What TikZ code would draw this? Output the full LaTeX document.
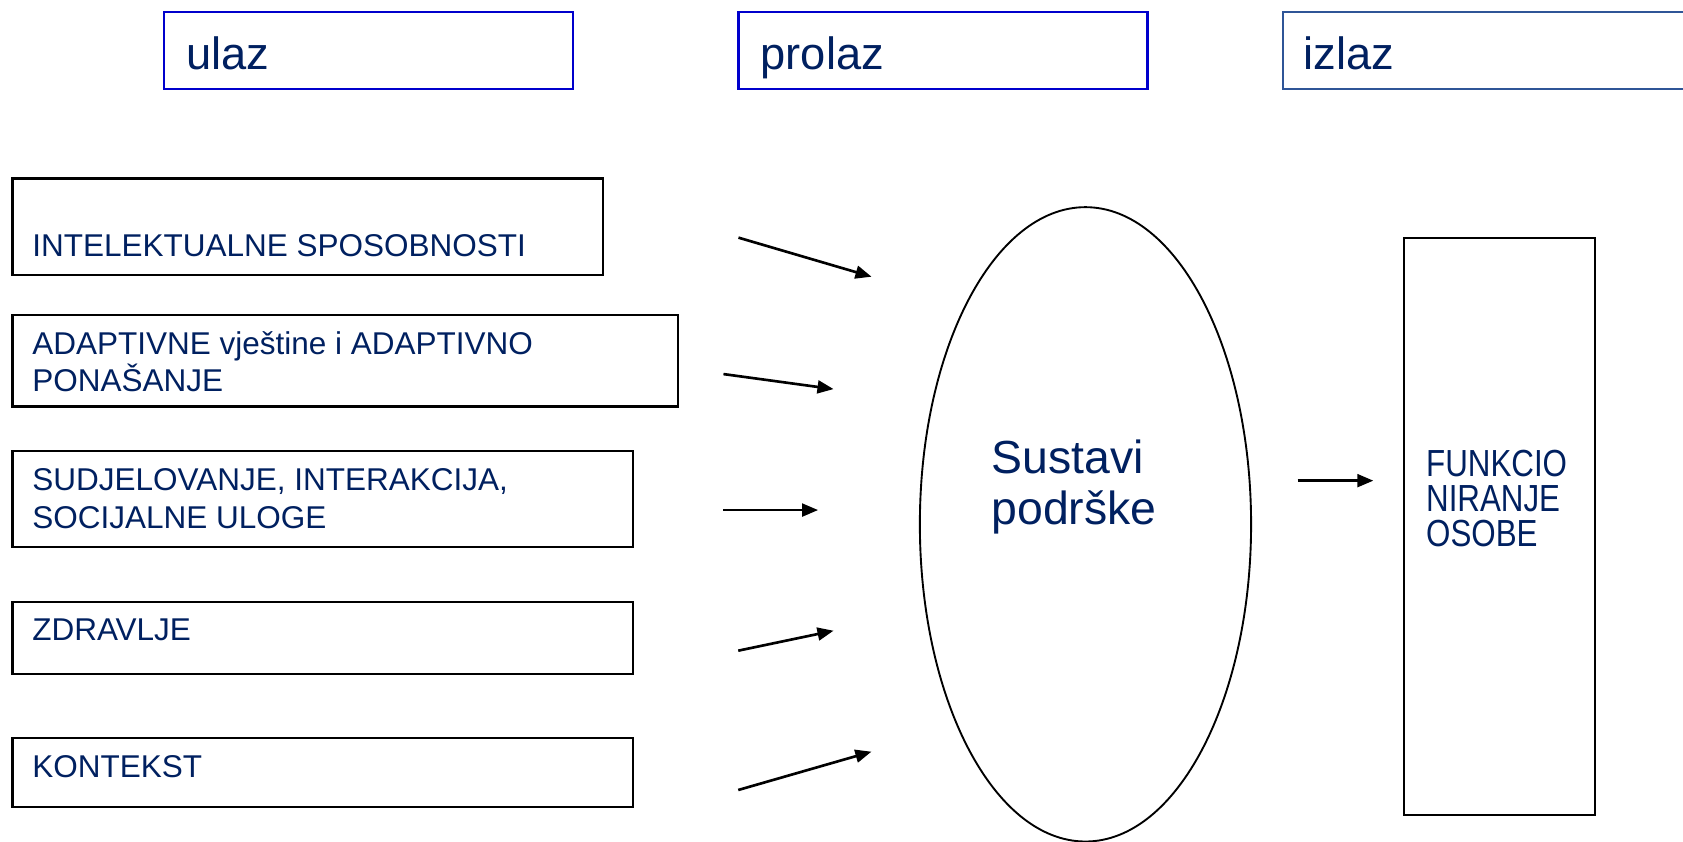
\documentclass[tikz,border=0pt]{standalone}
\usepackage{fontspec}
\setmainfont{Liberation Sans}
\newfontfamily\narrowfont[FakeStretch=0.83]{Liberation Sans}
\usetikzlibrary{shapes.geometric,arrows.meta}
\definecolor{textnavy}{RGB}{0,32,96}
\definecolor{headblue}{RGB}{0,0,204}
\definecolor{steelblue}{RGB}{47,85,151}

\begin{document}
\begin{tikzpicture}[head_box/.style={draw=headblue,line width=0.6pt,minimum width=3.81cm,minimum height=0.72cm,inner sep=0pt,anchor=north west},in_box/.style={draw,line width=0.6pt,inner sep=0pt,anchor=north west},head_text/.style={text=textnavy,font=\fontsize{12}{14}\selectfont,inner sep=0pt,anchor=base west},small_text/.style={text=textnavy,font=\fontsize{8.35}{9.9}\selectfont,align=left,inner sep=0pt,anchor=base west},big_text/.style={text=textnavy,font=\fontsize{12.3}{13.5}\selectfont,align=left,inner sep=0pt,anchor=base west},narrow_text/.style={text=textnavy,font=\narrowfont\fontsize{10}{9.3}\selectfont,align=left,inner sep=0pt,anchor=base west},arrow_line/.style={-{Triangle[length=1.5mm,width=1.2mm]},line width=0.7pt}]
		
		\useasboundingbox (0,0) rectangle (15.68,7.84);
		\clip (0,0) rectangle (15.68,7.84);
		
		% ulaz / prolaz / izlaz
		\node[head_box] (ulaz) at (1.52,7.74) {};
		\node[head_box] (prolaz) at (6.87,7.74) {};
		\node[head_box,draw=steelblue,minimum width=4.3cm] (izlaz) at (11.94,7.74) {};
		\node[head_text] (ulaz_t) at (1.73,7.19) {ulaz};
		\node[head_text] (prolaz_t) at (7.08,7.19) {prolaz};
		\node[head_text] (izlaz_t) at (12.14,7.19) {izlaz};
		
		% inputs (text anchored on its last line)
		\node[in_box,minimum width=5.50cm,minimum height=0.90cm] (intel) at (0.107,6.188) {};
		\node[in_box,minimum width=6.20cm,minimum height=0.85cm] (adapt) at (0.107,4.914) {};
		\node[in_box,minimum width=5.78cm,minimum height=0.89cm] (sudj) at (0.107,3.647) {};
		\node[in_box,minimum width=5.78cm,minimum height=0.67cm] (zdrav) at (0.107,2.24) {};
		\node[in_box,minimum width=5.78cm,minimum height=0.64cm] (kont) at (0.107,0.974) {};
		\node[small_text] (intel_t) at (0.294,5.448) {INTELEKTUALNE SPOSOBNOSTI};
		\node[small_text] (adapt_t) at (0.294,4.191) {ADAPTIVNE vještine i ADAPTIVNO\\PONAŠANJE};
		\node[small_text] (sudj_t) at (0.294,2.92) {SUDJELOVANJE, INTERAKCIJA,\\SOCIJALNE ULOGE};
		\node[small_text] (zdrav_t) at (0.294,1.87) {ZDRAVLJE};
		\node[small_text] (kont_t) at (0.294,0.594) {KONTEKST};
		
		% sustavi podrske
		\node[ellipse,draw,line width=0.5pt,minimum width=3.086cm,minimum height=5.91cm,inner sep=0pt] (sustav) at (10.113,2.955) {};
		\node[big_text] (sustav_t) at (9.23,2.955) {Sustavi\\podrške};
		
		% output
		\node[in_box,minimum width=1.78cm,minimum height=5.37cm] (funkc) at (13.07,5.63) {};
		\node[narrow_text] (funkc_t) at (13.28,2.75) {FUNKCIO\\NIRANJE\\OSOBE};
		
		\coordinate (a1) at (6.88,5.626);
		\coordinate (b1) at (8.12,5.262);
		\coordinate (a2) at (6.74,4.355);
		\coordinate (b2) at (7.766,4.215);
		\coordinate (a3) at (6.74,3.088);
		\coordinate (b3) at (7.622,3.088);
		\coordinate (a4) at (6.878,1.778);
		\coordinate (b4) at (7.766,1.964);
		\coordinate (a5) at (6.878,0.48);
		\coordinate (b5) at (8.119,0.837);
		\coordinate (a6) at (12.09,3.362);
		\coordinate (b6) at (12.795,3.362);
		
		\draw[arrow_line] (a1) -- (b1);
		\draw[arrow_line] (a2) -- (b2);
		\draw[arrow_line] (a3) -- (b3);
		\draw[arrow_line] (a4) -- (b4);
		\draw[arrow_line] (a5) -- (b5);
		\draw[arrow_line] (a6) -- (b6);
		\end{tikzpicture}
\end{document}
